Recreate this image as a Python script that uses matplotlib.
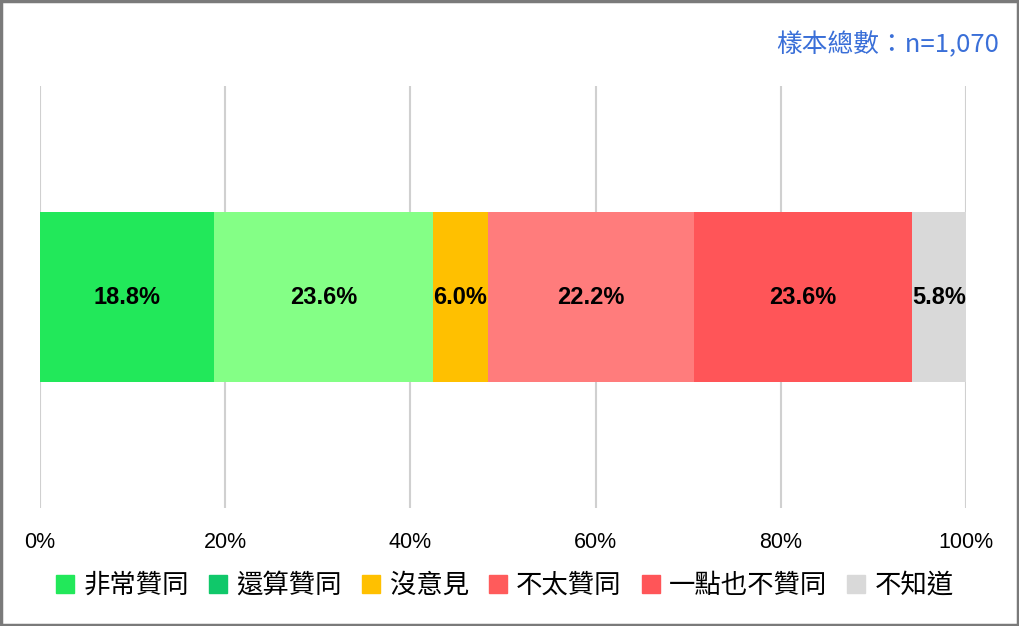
import matplotlib
matplotlib.use('Agg')
import matplotlib.pyplot as plt
from matplotlib.patches import Rectangle
from matplotlib.lines import Line2D

# survey responses (percent)
categories = ['非常贊同', '還算贊同', '沒意見', '不太贊同', '一點也不贊同', '不知道']
values = [18.8, 23.6, 6.0, 22.2, 23.6, 5.8]
bar_colors = ['#22e85a', '#84ff86', '#ffc000', '#ff7c7c', '#ff5558', '#d9d9d9']
legend_colors = ['#22e85a', '#10c86a', '#ffc000', '#ff5b5b', '#ff5558', '#d9d9d9']
ticks = [0, 20, 40, 60, 80, 100]
tick_labels = ['0%', '20%', '40%', '60%', '80%', '100%']
note = '樣本總數：n=1,070'

cjk = ['Noto Sans CJK TC', 'DejaVu Sans']
latin = ['Liberation Sans', 'DejaVu Sans']

fig = plt.figure(figsize=(10.2, 6.26), dpi=100)
ax = fig.add_axes([0.0392, 0.1885, 0.9078, 0.674])

left = 0
for val, col in zip(values, bar_colors):
    ax.barh(0, val, left=left, height=0.403, color=col, zorder=2)
    ax.text(left + val / 2, 0, f'{val:.1f}%', ha='center', va='center',
            fontsize=17, fontweight='bold', family=latin, zorder=3)
    left += val

ax.set_xlim(0, 100)
ax.set_ylim(-0.5, 0.5)
ax.set_xticks(ticks)
ax.set_xticklabels(tick_labels, family=latin, fontsize=15.5)
ax.set_yticks([])
ax.tick_params(axis='x', length=0, pad=17)
ax.grid(axis='x', color='#d0d0d0', linewidth=1.5, zorder=0)
for s in ax.spines.values():
    s.set_visible(False)

handles = [Line2D([], [], marker='s', linestyle='', markersize=13,
                  markerfacecolor=c, markeredgecolor=c) for c in legend_colors]
fig.legend(handles, categories, loc='center', bbox_to_anchor=(0.495, 0.065),
           ncol=6, frameon=False, prop={'family': cjk, 'size': 19},
           handlelength=0.7, handletextpad=0.35, columnspacing=0.75)

fig.text(0.979, 0.928, note, ha='right', va='center', color='#3a6fd8',
         fontsize=18.5, family=cjk, fontweight='medium')

# grey frame round the picture
fig.patches.append(Rectangle((0.001, 0.002), 0.997, 0.996, transform=fig.transFigure,
                             fill=False, edgecolor='#7a7a7a', linewidth=2.5))

fig.savefig('out.png', dpi=100)
